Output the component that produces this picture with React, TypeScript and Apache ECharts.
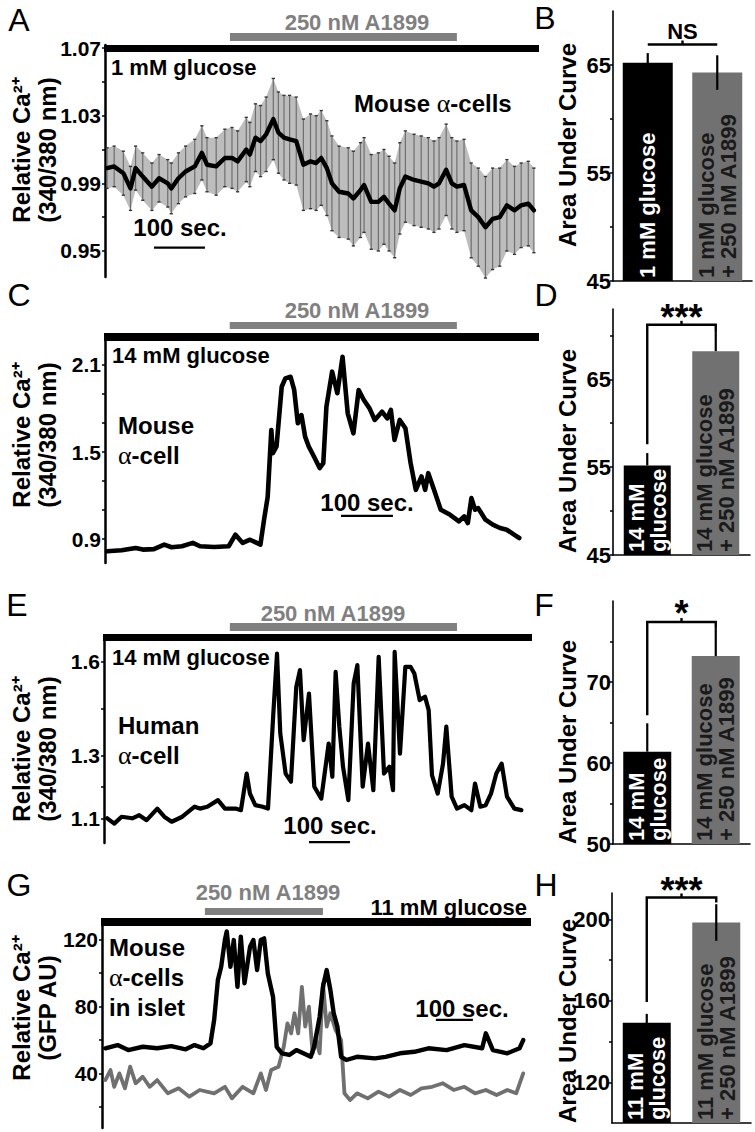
import React, { useEffect, useRef } from "react";
import * as echarts from "echarts";

const FONT = '"Liberation Sans", Arial, Helvetica, sans-serif';
const SERIF = '"Liberation Serif", "DejaVu Serif", serif';

// ---------- Panel A : mean trace (1 mM glucose), seconds / ratio / SEM ----------
const A_TIME = [2,16,34,48,58,72,90,104,121,128,142,156,174,188,198,216,233,247,258,275,282,293,303,314,328,338,349,360,373,387,401,412,422,433,443,457,475,485,499,506,520,534,545,555,566,576,587,604,618,632,643,653,667,678,688,702,716,730,744,758,772,786,801,814,828,839];
const A_MEAN = [0.999,1.000,0.996,0.987,0.999,0.994,0.988,0.993,0.990,0.987,0.993,0.997,1.000,1.008,1.001,1.000,1.005,1.005,1.003,1.010,1.007,1.017,1.015,1.019,1.028,1.020,1.017,1.016,1.015,1.001,1.003,1.002,1.005,0.999,0.990,0.985,0.984,0.981,0.986,0.989,0.979,0.979,0.982,0.978,0.974,0.987,0.994,0.992,0.991,0.990,0.988,0.990,0.998,0.990,0.988,0.989,0.974,0.970,0.964,0.969,0.970,0.977,0.974,0.977,0.978,0.974];
const A_SEM = [0.012,0.012,0.013,0.013,0.013,0.014,0.014,0.014,0.014,0.015,0.015,0.015,0.016,0.016,0.016,0.017,0.017,0.018,0.018,0.019,0.019,0.020,0.021,0.022,0.024,0.024,0.025,0.026,0.026,0.027,0.028,0.028,0.028,0.028,0.028,0.027,0.027,0.028,0.028,0.028,0.028,0.029,0.028,0.028,0.028,0.027,0.027,0.027,0.027,0.027,0.027,0.027,0.027,0.027,0.027,0.027,0.028,0.029,0.030,0.030,0.029,0.027,0.026,0.025,0.025,0.025];
const A_DRUG = [243, 688];
const A_YLABELS = [0.95, 0.99, 1.03, 1.07];
const A_YTICKS = [0.95, 0.97, 0.99, 1.01, 1.03, 1.05, 1.07];

// ---------- Panel B ----------
const B_GROUPS = ["1 mM glucose", "1 mM glucose\n+ 250 nM A1899"];
const B_VALUES = [65.2, 64.3];
const B_ERR = [0.9, 1.6];
const B_SIG = "NS";
const B_YLABELS = [45, 55, 65];
const B_YTICKS = [45, 50, 55, 60, 65];

// ---------- Panel C : single mouse alpha-cell, 14 mM glucose ----------
const C_TIME = [2,30,57,71,92,112,126,146,167,181,208,236,249,263,277,290,297,304,311,318,321,328,338,345,355,362,369,376,383,390,400,411,418,424,435,445,455,465,476,486,496,507,517,531,541,548,555,565,576,586,596,607,614,620,631,644,662,679,689,696,703,710,716,730,744,758,771,785,795];
const C_VALUE = [0.815,0.822,0.838,0.827,0.83,0.861,0.843,0.85,0.873,0.85,0.845,0.85,0.93,0.873,0.895,0.873,0.861,1.033,1.19,1.652,1.492,1.538,1.95,2.008,2.019,1.928,1.698,1.755,1.606,1.538,1.469,1.389,1.423,1.813,2.054,1.905,2.157,1.767,1.629,1.928,1.859,1.801,1.721,1.778,1.732,1.79,1.583,1.721,1.664,1.423,1.239,1.331,1.239,1.354,1.239,1.102,1.067,1.022,1.056,1.01,1.182,1.102,1.113,1.033,0.999,0.976,0.964,0.93,0.907];
const C_DRUG = [238, 675];
const C_YLABELS = [0.9, 1.5, 2.1];
const C_YTICKS = [0.9, 1.1, 1.3, 1.5, 1.7, 1.9, 2.1];

// ---------- Panel D ----------
const D_GROUPS = ["14 mM\nglucose", "14 mM glucose\n+ 250 nM A1899"];
const D_VALUES = [55.2, 68.2];
const D_ERR = [1.4, 2.3];
const D_SIG = "***";
const D_YLABELS = [45, 55, 65];
const D_YTICKS = [45, 50, 55, 60, 65, 70];

// ---------- Panel E : human alpha-cell ----------
const E_TIME = [3,20,38,64,81,99,125,142,160,186,216,229,247,273,290,316,329,343,351,364,382,395,408,417,425,438,451,464,473,482,495,508,525,543,552,560,569,578,591,604,613,626,639,652,665,678,691,700,704,717,730,743,752,765,778,787,795,809,822,830,843,856,874,891,900,913,926,939,952,965,978,996,1013];
const E_VALUE = [1.100,1.083,1.105,1.100,1.110,1.094,1.131,1.105,1.089,1.105,1.137,1.131,1.137,1.158,1.131,1.131,1.126,1.243,1.179,1.142,1.137,1.131,1.435,1.627,1.371,1.243,1.217,1.520,1.574,1.350,1.499,1.201,1.163,1.339,1.233,1.568,1.393,1.265,1.158,1.531,1.590,1.201,1.339,1.190,1.616,1.243,1.265,1.190,1.632,1.307,1.584,1.584,1.563,1.478,1.489,1.446,1.238,1.179,1.275,1.393,1.169,1.131,1.142,1.126,1.211,1.137,1.142,1.179,1.243,1.275,1.169,1.131,1.126];
const E_DRUG = [302, 856];
const E_YLABELS = [1.1, 1.3, 1.6];
const E_YTICKS = [1.1, 1.2, 1.3, 1.45, 1.6];

// ---------- Panel F ----------
const F_GROUPS = ["14 mM\nglucose", "14 mM glucose\n+ 250 nM A1899"];
const F_VALUES = [61.4, 73.2];
const F_ERR = [3.5, 3.6];
const F_SIG = "*";
const F_YLABELS = [50, 60, 70];
const F_YTICKS = [50, 55, 60, 65, 70, 75];

// ---------- Panel G : two alpha-cells in an islet (GFP AU) ----------
const G_TIME_1 = [4,37,66,105,144,182,221,245,269,288,298,308,317,327,332,342,351,361,370,380,395,404,414,424,433,443,457,467,481,501,520,539,559,568,583,592,602,612,621,631,641,655,684,732,761,800,839,877,926,974,1022,1032,1051,1090,1123,1133];
const G_CELL_1 = [55.2,57.1,54.1,56.1,55.2,56.5,54.6,57.1,55.2,58.1,72.1,95.9,103.9,119.8,125,103.9,119.8,91.9,121.8,94.0,115.8,119.8,101.9,119.8,120.8,99.9,86.0,56.1,52.2,51.2,54.1,52.2,50.1,56.1,74.0,91.9,101.9,90.0,76.1,68.1,50.1,48.2,50.1,49.2,50.1,52.2,53.1,55.2,54.1,57.1,55.2,64.1,54.1,52.2,55.2,60.1];
const G_TIME_2 = [4,18,28,42,57,71,86,105,124,144,173,202,231,259,298,327,346,375,404,424,438,452,472,486,496,506,515,525,535,544,554,564,573,583,592,602,612,626,641,650,665,684,713,742,771,800,829,858,887,916,945,974,1003,1032,1061,1090,1114,1133];
const G_CELL_2 = [36.2,42.2,32.2,40.2,31.3,44.2,34.3,38.2,32.2,36.2,28.3,31.3,26.3,30.3,28.3,32.2,25.3,32.2,28.3,40.2,30.3,42.2,44.2,56.1,70.1,64.1,76.1,64.1,91.9,68.1,80.0,52.2,60.1,52.2,94.0,68.1,76.1,66.1,60.1,28.3,24.3,28.3,25.3,29.3,26.3,30.3,27.3,31.3,32.2,34.3,30.3,32.2,28.3,30.3,27.3,30.3,28.3,40.2];
const G_DRUG = [273, 592];
const G_YLABELS = [40, 80, 120];
const G_YTICKS = [20, 40, 60, 80, 100, 120];

// ---------- Panel H ----------
const H_GROUPS = ["11 mM\nglucose", "11 mM glucose\n+ 250 nM A1899"];
const H_VALUES = [149.2, 198.5];
const H_ERR = [4.4, 9.0];
const H_SIG = "***";
const H_YLABELS = [120, 160, 200];
const H_YTICKS = [120, 140, 160, 180, 200];

const BAR_COLORS = ["#000000", "#717171"];
const BAR_TEXT = ["#ffffff", "#1a1a1a"];

// ---------- layout ----------
type G = { left: number; top: number; width: number; height: number };
const GRIDS: G[] = [
  { left: 105, top: 45, width: 434, height: 232 }, // A
  { left: 613, top: 11, width: 139, height: 270 }, // B
  { left: 105, top: 341, width: 434, height: 222 }, // C
  { left: 613, top: 309, width: 137, height: 246 }, // D
  { left: 104, top: 641, width: 428, height: 202 }, // E
  { left: 613, top: 601, width: 137, height: 243 }, // F
  { left: 102, top: 926, width: 429, height: 202 }, // G
  { left: 612, top: 893, width: 139, height: 230 }, // H
];

function pairs(t: number[], v: number[]) {
  return t.map((x, i) => [x, v[i]]);
}

function traceYAxis(gi: number, min: number, max: number, labels: number[], ticks: number[]) {
  return {
    gridIndex: gi, type: "value", min, max,
    axisLine: { show: true, onZero: false, lineStyle: { color: "#000", width: 2.5 } },
    axisTick: { show: true, customValues: ticks, length: 3, lineStyle: { color: "#000", width: 1.5 } },
    axisLabel: { show: true, customValues: labels, fontSize: 21, fontWeight: "bold", color: "#000", margin: 4, fontFamily: FONT },
    splitLine: { show: false },
  };
}
function barYAxis(gi: number, min: number, max: number, labels: number[], ticks: number[]) {
  return {
    gridIndex: gi, type: "value", min, max, startValue: min,
    axisLine: { show: true, onZero: false, lineStyle: { color: "#000", width: 1.6 } },
    axisTick: { show: true, customValues: ticks, length: 3, lineStyle: { color: "#000", width: 1.5 } },
    axisLabel: { show: true, customValues: labels, fontSize: 22, fontWeight: "bold", color: "#000", margin: 2, fontFamily: FONT },
    splitLine: { show: false },
  };
}

function annot(gi: number, drug: number[], barOff: number[], grayOff: number[], scaleT: number, scaleV: number) {
  return {
    type: "custom", coordinateSystem: "cartesian2d", xAxisIndex: gi, yAxisIndex: gi, silent: true, z: 6,
    data: [[scaleT, scaleV]],
    renderItem: (params: any, api: any) => {
      const cs = params.coordSys;
      const g0 = api.coord([drug[0], scaleV])[0];
      const g1 = api.coord([drug[1], scaleV])[0];
      const s0 = api.coord([scaleT, scaleV]);
      const s1 = api.coord([scaleT + 100, scaleV]);
      return {
        type: "group",
        children: [
          { type: "rect", shape: { x: cs.x - 1, y: cs.y + barOff[0], width: cs.width + 1, height: barOff[1] - barOff[0] }, style: { fill: "#000" } },
          { type: "rect", shape: { x: g0, y: cs.y + grayOff[0], width: g1 - g0, height: grayOff[1] - grayOff[0] }, style: { fill: "#808080" } },
          { type: "line", shape: { x1: s0[0], y1: s0[1], x2: s1[0], y2: s1[1] }, style: { stroke: "#000", lineWidth: 2.2 } },
        ],
      };
    },
  };
}

function traceLine(gi: number, data: number[][], color: string, width: number, z = 4) {
  return {
    type: "line", xAxisIndex: gi, yAxisIndex: gi, data, symbol: "none", showSymbol: false, silent: true, z,
    lineStyle: { color, width, join: "round", cap: "round" }, clip: false,
  };
}

function barPanel(gi: number, groups: string[], values: number[], errs: number[], lowerToo: boolean,
  barWidth: number, bracket: { y: number; legL: number; legR: number }, sig: string, sigSize: number, sigOff: number) {
  const bars = {
    type: "bar", xAxisIndex: gi, yAxisIndex: gi, barWidth, silent: true, z: 2,
    data: values.map((v, i) => ({
      value: v,
      itemStyle: { color: BAR_COLORS[i] },
      label: { formatter: groups[i], color: BAR_TEXT[i] },
    })),
    label: {
      show: true, position: "insideBottom", rotate: 90, align: "left", verticalAlign: "middle", distance: 3,
      fontSize: 22, fontWeight: "bold", fontFamily: FONT, lineHeight: 22,
    },
  };
  const err = {
    type: "custom", coordinateSystem: "cartesian2d", xAxisIndex: gi, yAxisIndex: gi, silent: true, z: 5,
    data: values.map((v, i) => [i, lowerToo ? v - errs[i] : v, v + errs[i]]),
    encode: { x: 0, y: [1, 2] },
    renderItem: (params: any, api: any) => {
      const a = api.coord([api.value(0), api.value(1)]);
      const b = api.coord([api.value(0), api.value(2)]);
      return { type: "line", shape: { x1: a[0], y1: a[1], x2: b[0], y2: b[1] }, style: { stroke: "#000", lineWidth: 2.2 } };
    },
  };
  const br = {
    type: "custom", coordinateSystem: "cartesian2d", xAxisIndex: gi, yAxisIndex: gi, silent: true, z: 5,
    data: [[0, bracket.y]],
    renderItem: (params: any, api: any) => {
      const pL = api.coord([0, bracket.y]);
      const pR = api.coord([1, bracket.y]);
      const lL = api.coord([0, bracket.legL]);
      const lR = api.coord([1, bracket.legR]);
      const mid = (pL[0] + pR[0]) / 2;
      return {
        type: "group",
        children: [
          { type: "polyline", shape: { points: [lL, pL, pR, lR] }, style: { stroke: "#000", lineWidth: 2.4, fill: null } },
          { type: "line", shape: { x1: mid, y1: pL[1], x2: mid, y2: pL[1] - 4 }, style: { stroke: "#000", lineWidth: 2.4 } },
          {
            type: "text", x: mid, y: pL[1] - sigOff,
            style: { text: sig, fill: "#000", fontSize: sigSize, fontWeight: "bold", fontFamily: FONT,
              align: "center", verticalAlign: "middle", textAlign: "center", textVerticalAlign: "middle" },
          },
        ],
      };
    },
  };
  return [bars, err, br];
}

function catXAxis(gi: number, groups: string[]) {
  return {
    gridIndex: gi, type: "category", data: groups,
    axisLine: { show: true, onZero: false, lineStyle: { color: "#000", width: 1.6 } },
    axisTick: { show: false }, axisLabel: { show: false }, splitLine: { show: false },
  };
}
function valXAxis(gi: number, min: number, max: number) {
  return { gridIndex: gi, type: "value", min, max, show: false, splitLine: { show: false } };
}

function txt(x: number, y: number, text: string, opts: any = {}) {
  const align = opts.align || "left";
  const fs = opts.fontSize || 22;
  return {
    type: "text", x, y, rotation: opts.rotation || 0, silent: true, z: 10,
    style: {
      text, fill: opts.fill || "#000", fontSize: fs, fontWeight: opts.fontWeight || "bold",
      fontFamily: FONT, align, textAlign: align, verticalAlign: "middle", textVerticalAlign: "middle",
      lineHeight: opts.lineHeight || 30,
      rich: { a: { fontFamily: SERIF, fontWeight: "normal", fontSize: fs + 2, fill: "#000", color: "#000" } },
    },
  };
}

function buildOption() {
  const series: any[] = [];

  // A
  series.push({
    type: "custom", coordinateSystem: "cartesian2d", xAxisIndex: 0, yAxisIndex: 0, silent: true, z: 1,
    data: [[A_TIME[0], A_MEAN[0]]],
    renderItem: (params: any, api: any) => {
      const up = A_TIME.map((t, i) => api.coord([t, A_MEAN[i] + A_SEM[i]]));
      const lo = A_TIME.map((t, i) => api.coord([t, A_MEAN[i] - A_SEM[i]])).reverse();
      return { type: "polygon", shape: { points: up.concat(lo) }, style: { fill: "#bdbdbd" } };
    },
  });
  series.push({
    type: "custom", coordinateSystem: "cartesian2d", xAxisIndex: 0, yAxisIndex: 0, silent: true, z: 2,
    data: A_TIME.map((t, i) => [t, A_MEAN[i] - A_SEM[i], A_MEAN[i] + A_SEM[i]]),
    encode: { x: 0, y: [1, 2] },
    renderItem: (params: any, api: any) => {
      const t = api.value(0);
      const a = api.coord([t, api.value(1)]);
      const b = api.coord([t, api.value(2)]);
      return {
        type: "group",
        children: [
          { type: "line", shape: { x1: a[0], y1: a[1], x2: b[0], y2: b[1] }, style: { stroke: "#6e6e6e", lineWidth: 1.2 } },
          { type: "line", shape: { x1: a[0] - 1.6, y1: a[1], x2: a[0] + 1.6, y2: a[1] }, style: { stroke: "#333", lineWidth: 1.4 } },
          { type: "line", shape: { x1: b[0] - 1.6, y1: b[1], x2: b[0] + 1.6, y2: b[1] }, style: { stroke: "#333", lineWidth: 1.4 } },
        ],
      };
    },
  });
  series.push(traceLine(0, pairs(A_TIME, A_MEAN), "#000", 4.4));
  series.push(annot(0, A_DRUG, [0, 7], [-12, -4], 94, 0.952));

  // C
  series.push(traceLine(2, pairs(C_TIME, C_VALUE), "#000", 4.6));
  series.push(annot(2, C_DRUG, [-8, 0], [-19, -12], 452, 1.059));

  // E
  series.push(traceLine(4, pairs(E_TIME, E_VALUE), "#000", 4.2));
  series.push(annot(4, E_DRUG, [-7, 0], [-18, -10], 495, 1.024));

  // G
  series.push(traceLine(6, pairs(G_TIME_2, G_CELL_2), "#707070", 3.8, 3));
  series.push(traceLine(6, pairs(G_TIME_1, G_CELL_1), "#000", 4.4, 4));
  series.push(annot(6, G_DRUG, [-8, 0], [-18, -11], 897, 72.1));

  // bars
  series.push(...barPanel(1, B_GROUPS, B_VALUES, B_ERR, true, 50, { y: 66.9, legL: 66.9, legR: 66.9 }, B_SIG, 22, 13));
  series.push(...barPanel(3, D_GROUPS, D_VALUES, D_ERR, false, 47, { y: 71.2, legL: 57.6, legR: 70.5 }, D_SIG, 36, 7));
  series.push(...barPanel(5, F_GROUPS, F_VALUES, F_ERR, false, 48, { y: 77.4, legL: 65.9, legR: 76.8 }, F_SIG, 36, 9));
  series.push(...barPanel(7, H_GROUPS, H_VALUES, H_ERR, true, 48, { y: 210.8, legL: 159.5, legR: 208.3 }, H_SIG, 36, 7));

  const L = { fontSize: 32, fontWeight: "normal", align: "center" };
  const YT = { rotation: Math.PI / 2, align: "center", lineHeight: 26, fontSize: 24 };
  const graphic: any[] = [
    // panel letters
    txt(19, 20, "A", L), txt(545, 18, "B", L), txt(19, 295, "C", L), txt(546, 295, "D", L),
    txt(17, 605, "E", L), txt(544, 605, "F", L), txt(19, 885, "G", L), txt(546, 885, "H", L),
    // y-axis titles
    txt(34, 150, "Relative Ca²⁺\n(340/380 nm)", YT),
    txt(34, 435, "Relative Ca²⁺\n(340/380 nm)", YT),
    txt(34, 749, "Relative Ca²⁺\n(340/380 nm)", YT),
    txt(34, 1008, "Relative Ca²⁺\n(GFP AU)", YT),
    txt(567, 145, "Area Under Curve", { rotation: Math.PI / 2, align: "center", fontSize: 24 }),
    txt(567, 451, "Area Under Curve", { rotation: Math.PI / 2, align: "center", fontSize: 24 }),
    txt(567, 742, "Area Under Curve", { rotation: Math.PI / 2, align: "center", fontSize: 24 }),
    txt(567, 1021, "Area Under Curve", { rotation: Math.PI / 2, align: "center", fontSize: 24 }),
    // drug labels
    txt(357, 22, "250 nM A1899", { fill: "#808080", align: "center" }),
    txt(357, 310, "250 nM A1899", { fill: "#808080", align: "center" }),
    txt(333, 613, "250 nM A1899", { fill: "#808080", align: "center" }),
    txt(268, 892, "250 nM A1899", { fill: "#808080", align: "center" }),
    // glucose labels
    txt(111, 67, "1 mM glucose"),
    txt(112, 355, "14 mM glucose"),
    txt(112, 657, "14 mM glucose"),
    txt(527, 907, "11 mM glucose", { align: "right" }),
    // cell labels
    txt(354, 103, "Mouse {a|α}-cells", { fontSize: 24 }),
    txt(118, 440, "Mouse\n{a|α}-cell", { fontSize: 24 }),
    txt(118, 740, "Human\n{a|α}-cell", { fontSize: 24 }),
    txt(109, 977, "Mouse\n{a|α}-cells\nin islet", { fontSize: 24 }),
    // scale bar labels
    txt(180, 227, "100 sec.", { align: "center", fontSize: 24 }),
    txt(367, 502, "100 sec.", { align: "center", fontSize: 24 }),
    txt(330, 825, "100 sec.", { align: "center", fontSize: 24 }),
    txt(462, 1008, "100 sec.", { align: "center", fontSize: 24 }),
  ];

  return {
    animation: false,
    backgroundColor: "#ffffff",
    textStyle: { fontFamily: FONT },
    grid: GRIDS.map((g) => ({ ...g, containLabel: false, outerBoundsMode: "none" })),
    xAxis: [
      valXAxis(0, -2, 849),
      catXAxis(1, B_GROUPS),
      valXAxis(2, -2, 833),
      catXAxis(3, D_GROUPS),
      valXAxis(4, -5, 1039),
      catXAxis(5, F_GROUPS),
      valXAxis(6, -5, 1154),
      catXAxis(7, H_GROUPS),
    ],
    yAxis: [
      traceYAxis(0, 0.9346, 1.0718, A_YLABELS, A_YTICKS),
      barYAxis(1, 45, 70, B_YLABELS, B_YTICKS),
      traceYAxis(2, 0.7345, 2.2655, C_YLABELS, C_YTICKS),
      barYAxis(3, 45, 73, D_YLABELS, D_YTICKS),
      traceYAxis(4, 1.021, 1.667, E_YLABELS, E_YTICKS),
      barYAxis(5, 50, 80, F_YLABELS, F_YTICKS),
      traceYAxis(6, 7.6, 128.2, G_YLABELS, G_YTICKS),
      barYAxis(7, 100, 213, H_YLABELS, H_YTICKS),
    ],
    series,
    graphic,
  };
}

export default function App() {
  const ref = useRef<HTMLDivElement>(null);
  useEffect(() => {
    const chart = echarts.init(ref.current as HTMLDivElement, undefined, { renderer: "svg" });
    chart.setOption(buildOption() as any);
    return () => chart.dispose();
  }, []);
  return (
    <div
      ref={ref}
      style={{ position: "absolute", left: 0, top: 0, width: 755, height: 1132, background: "#fff" }}
    />
  );
}
